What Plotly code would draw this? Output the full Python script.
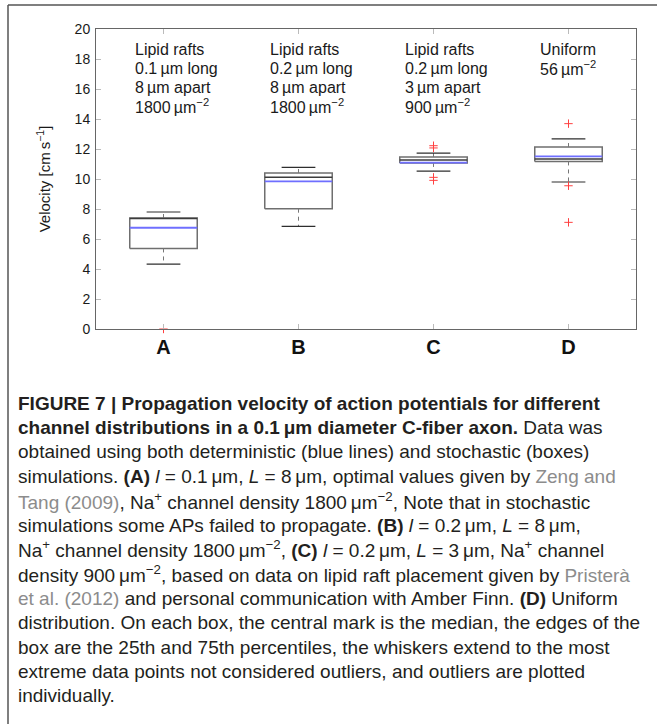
import plotly.graph_objects as go

# ---- data -------------------------------------------------------------
categories = ["A", "B", "C", "D"]
q1 = [5.37, 8.02, 11.07, 11.17]
median = [7.36, 10.11, 11.27, 11.33]
q3 = [7.40, 10.40, 11.47, 12.13]
whisker_low = [4.33, 6.84, 10.53, 9.80]
whisker_high = [7.80, 10.77, 11.73, 12.67]
deterministic = [6.75, 9.84, 11.09, 11.51]
outliers_A = [0.0]
outliers_B = []
outliers_C = [12.22, 12.07, 10.11, 9.91]
outliers_D = [13.69, 9.55, 7.11]
y_ticks = [0, 2, 4, 6, 8, 10, 12, 14, 16, 18, 20]

group_labels = [
    ["Lipid rafts", "0.1\u2009\u00b5m long", "8\u2009\u00b5m apart", "1800\u2009\u00b5m<sup>\u22122</sup>"],
    ["Lipid rafts", "0.2\u2009\u00b5m long", "8\u2009\u00b5m apart", "1800\u2009\u00b5m<sup>\u22122</sup>"],
    ["Lipid rafts", "0.2\u2009\u00b5m long", "3\u2009\u00b5m apart", "900\u2009\u00b5m<sup>\u22122</sup>"],
    ["Uniform", "56\u2009\u00b5m<sup>\u22122</sup>"],
]

# ---- layout constants -------------------------------------------------
W, H = 657, 724
ML, MR, MT, MB = 96, 21, 29, 395
PW, PH = W - ML - MR, H - MT - MB

BOX_HALF = 0.25
CAP_HALF = 0.125
FONT = "Liberation Sans, Arial, Helvetica, sans-serif"
BOX_COLOR = "#6f6f6f"
MED_COLOR = "#3c3c3c"
BLUE = "#6f6fff"
RED = "#ff4040"
TXT = "#231f20"
LINK = "#8c8c8c"


def px_x(px):
    return (px - ML) / PW


def px_y(py):
    return (H - MB - py) / PH


fig = go.Figure()
xs = list(range(1, len(categories) + 1))

for i, x in enumerate(xs):
    # box outline
    fig.add_trace(go.Scatter(
        x=[x - BOX_HALF, x + BOX_HALF, x + BOX_HALF, x - BOX_HALF, x - BOX_HALF],
        y=[q1[i], q1[i], q3[i], q3[i], q1[i]],
        mode="lines", line=dict(color=BOX_COLOR, width=1.5),
        hoverinfo="skip", showlegend=False))
    # whisker stems (dashed)
    fig.add_trace(go.Scatter(
        x=[x, x, None, x, x],
        y=[q3[i], whisker_high[i], None, q1[i], whisker_low[i]],
        mode="lines", line=dict(color="#777777", width=1, dash="4px,4px"),
        hoverinfo="skip", showlegend=False))
    # whisker caps
    fig.add_trace(go.Scatter(
        x=[x - CAP_HALF, x + CAP_HALF, None, x - CAP_HALF, x + CAP_HALF],
        y=[whisker_high[i], whisker_high[i], None, whisker_low[i], whisker_low[i]],
        mode="lines", line=dict(color="#2e2e2e", width=1.2),
        hoverinfo="skip", showlegend=False))
    # median of stochastic runs
    fig.add_trace(go.Scatter(
        x=[x - BOX_HALF, x + BOX_HALF], y=[median[i], median[i]],
        mode="lines", line=dict(color=MED_COLOR, width=1.5),
        hoverinfo="skip", showlegend=False))
    # deterministic result
    fig.add_trace(go.Scatter(
        x=[x - BOX_HALF, x + BOX_HALF], y=[deterministic[i], deterministic[i]],
        mode="lines", line=dict(color=BLUE, width=1.8),
        hoverinfo="skip", showlegend=False))

# outliers
for i, vals in enumerate([outliers_A, outliers_B, outliers_C, outliers_D]):
    if vals:
        fig.add_trace(go.Scatter(
            x=[xs[i]] * len(vals), y=vals, mode="markers",
            marker=dict(symbol="cross-thin", size=6, line=dict(color=RED, width=1)),
            cliponaxis=False, hoverinfo="skip", showlegend=False))

annotations = []
# condition labels above the boxes, one annotation per text line
LABEL_TOP = 49
LABEL_STEP = 19
for i, lines in enumerate(group_labels):
    for k, line in enumerate(lines):
        annotations.append(dict(
            x=xs[i] - 0.225, y=px_y(LABEL_TOP + k * LABEL_STEP),
            xref="x", yref="paper",
            xanchor="left", yanchor="middle", align="left",
            text=line, showarrow=False,
            font=dict(family=FONT, size=16, color="#1a1a1a")))

# figure caption
mu = "\u03bcm"
gray = lambda s: f"<span style='color:{LINK}'>{s}</span>"
caption_lines = [
    "<b>FIGURE 7 | Propagation velocity of action potentials for different</b>",
    f"<b>channel distributions in a 0.1\u2009{mu} diameter C-fiber axon.</b> Data was",
    "obtained using both deterministic (blue lines) and stochastic (boxes)",
    f"simulations. <b>(A)</b> <i>l</i> = 0.1\u2009{mu}, <i>L</i> = 8\u2009{mu}, optimal values given by {gray('Zeng and')}",
    f"{gray('Tang (2009)')}, Na<sup>+</sup> channel density 1800\u2009{mu}<sup>\u22122</sup>, Note that in stochastic",
    f"simulations some APs failed to propagate. <b>(B)</b> <i>l</i> = 0.2\u2009{mu}, <i>L</i> = 8\u2009{mu},",
    f"Na<sup>+</sup> channel density 1800\u2009{mu}<sup>\u22122</sup>, <b>(C)</b> <i>l</i> = 0.2\u2009{mu}, <i>L</i> = 3\u2009{mu}, Na<sup>+</sup> channel",
    f"density 900\u2009{mu}<sup>\u22122</sup>, based on data on lipid raft placement given by {gray('Pristerà')}",
    f"{gray('et al. (2012)')} and personal communication with Amber Finn. <b>(D)</b> Uniform",
    "distribution. On each box, the central mark is the median, the edges of the",
    "box are the 25th and 75th percentiles, the whiskers extend to the most",
    "extreme data points not considered outliers, and outliers are plotted",
    "individually.",
]
CAP_TOP = 403
CAP_STEP = 24.4
for k, line in enumerate(caption_lines):
    annotations.append(dict(
        x=px_x(16), y=px_y(CAP_TOP + k * CAP_STEP), xref="paper", yref="paper",
        xanchor="left", yanchor="middle", align="left",
        text=line, showarrow=False,
        font=dict(family=FONT, size=19, color=TXT)))

# outer frame (left and top edges)
shapes = [
    dict(type="line", xref="paper", yref="paper",
         x0=px_x(8), x1=px_x(8), y0=px_y(5), y1=px_y(H + 10),
         line=dict(color="#555555", width=1.5)),
    dict(type="line", xref="paper", yref="paper",
         x0=px_x(8), x1=px_x(W + 10), y0=px_y(5), y1=px_y(5),
         line=dict(color="#555555", width=1.5)),
]

fig.update_layout(
    width=W, height=H,
    margin=dict(l=ML, r=MR, t=MT, b=MB, pad=0),
    paper_bgcolor="white", plot_bgcolor="white",
    font=dict(family=FONT, color="#1a1a1a"),
    annotations=annotations, shapes=shapes,
    xaxis=dict(
        range=[0.5, 4.5], tickvals=xs,
        ticktext=[f"<b>{c}</b>" for c in categories],
        tickfont=dict(size=20, color="#111111"),
        showgrid=False, zeroline=False,
        showline=True, linecolor="#666666", linewidth=1, mirror="ticks",
        ticks="inside", ticklen=5, tickcolor="#bbbbbb", tickwidth=1),
    yaxis=dict(
        range=[0, 20], tickvals=y_ticks,
        tickfont=dict(size=14, color="#1a1a1a"),
        ticklabelstandoff=2,
        showgrid=False, zeroline=False,
        showline=True, linecolor="#666666", linewidth=1, mirror="ticks",
        ticks="inside", ticklen=5, tickcolor="#bbbbbb", tickwidth=1,
        title=dict(text="Velocity [cm\u2009s<sup>\u22121</sup>]",
                   font=dict(size=15, color="#1a1a1a"), standoff=20)),
)

fig.write_html("out.html")
